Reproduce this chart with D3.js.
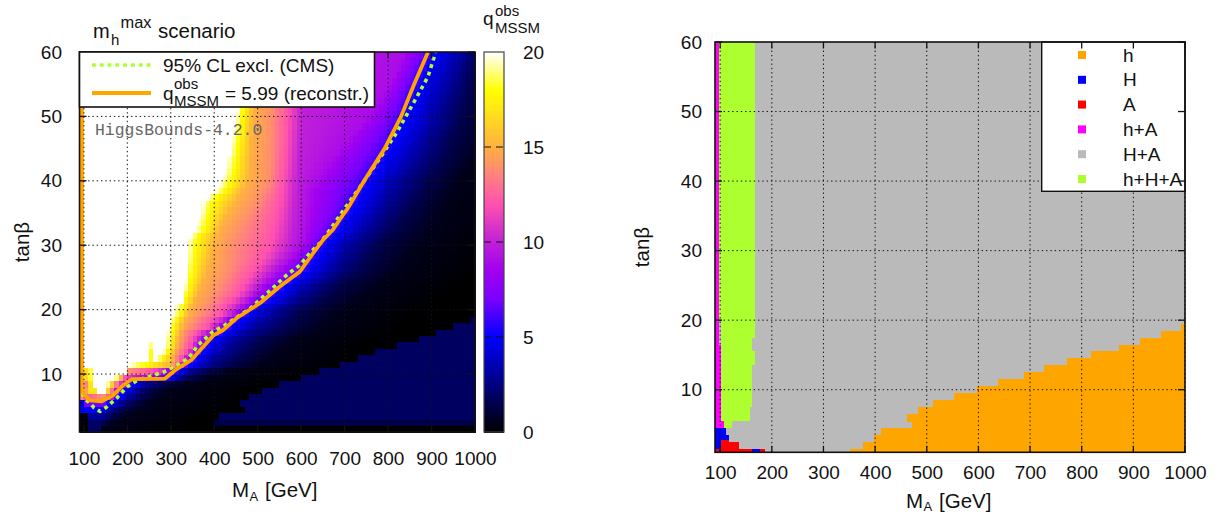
<!DOCTYPE html>
<html><head><meta charset="utf-8">
<script src="https://cdn.jsdelivr.net/npm/d3@7"></script>
<style>
html,body{margin:0;padding:0;background:#fff}
svg{display:block}
text{font-family:"Liberation Sans",Arial,sans-serif;fill:#111}
</style></head><body>
<svg id="c" width="1220" height="514"></svg>
<script>
// ---- shared ticks ----
const xTicks = [100,200,300,400,500,600,700,800,900,1000];
const yTicks = [10,20,30,40,50,60];
const cbTicks = [0,5,10,15,20];

// ---- colour bar stops ----
const paletteQ = [0,5,7,8.5,10,12,13.5,15,16.5,18,20];
const paletteC = ["#000000","#0000ff","#7a00ff","#a000f0","#c020d8","#ff50b0","#ff8080","#ffb040","#ffd820","#ffff00","#ffffff"];

// ---- left map: MA where q falls to each level, per tanβ row (row k spans k-1..k) ----
const qLevels = [20,18,15,14,12,10,9,6,5,3,1.5,0.5];
const qRows = [
[120,121,122,123,124,125,126,127,128,136,137,138],
[130,131,132,133,134,135,136,137,138,139,145,170],
[130,131,132,133,134,135,136,137,138,140,165,195],
[130,131,132,133,134,135,136,137,140,160,190,225],
[140,141,142,143,144,145,146,150,158,185,215,255],
[120,125,130,145,155,163,166,175,185,205,235,275],
[145,150,158,162,168,173,176,185,195,220,250,290],
[152,160,168,172,180,188,193,205,215,240,280,330],
[170,180,185,188,195,215,240,292,300,320,345,390],
[195,198,200,202,260,285,292,310,320,345,385,440],
[200,240,300,308,318,325,328,336,348,385,435,505],
[265,280,305,312,325,335,340,352,362,400,460,530],
[282,292,310,318,335,348,352,366,378,420,480,550],
[290,298,316,324,345,356,362,378,390,435,500,570],
[291,300,318,328,350,365,372,390,402,450,520,590],
[293,302,322,332,360,380,388,412,424,475,545,625],
[295,306,328,345,385,405,412,432,445,500,570,650],
[298,312,332,355,395,420,428,449,460,520,585,665],
[305,322,340,370,415,440,450,470,484,540,600,680],
[312,328,348,380,425,455,465,493,507,562,622,705],
[325,332,355,390,440,470,482,515,530,585,645,728],
[330,336,362,400,455,485,497,532,548,602,665,748],
[332,340,368,410,465,497,510,549,565,620,682,765],
[334,343,375,418,475,510,525,570,586,642,705,788],
[335,346,380,425,485,522,540,590,606,662,725,810],
[336,348,385,430,497,535,555,604,620,677,740,825],
[337,350,390,433,508,548,570,615,631,690,752,838],
[338,352,394,436,518,560,583,625,641,700,763,850],
[339,354,398,438,526,570,595,635,651,712,775,862],
[340,356,402,442,532,577,605,647,663,725,788,875],
[345,362,406,450,536,580,608,660,676,738,800,885],
[358,376,412,458,540,582,610,675,691,755,818,900],
[362,380,420,466,543,584,612,684,700,765,828,910],
[366,384,428,475,546,586,614,694,710,776,840,918],
[370,388,438,485,549,587,616,704,720,786,850,925],
[372,392,448,495,552,588,618,713,729,796,860,933],
[385,405,458,505,554,589,619,722,738,805,870,942],
[402,422,466,512,556,590,620,731,747,815,880,950],
[412,432,474,520,558,591,630,741,757,825,890,960],
[420,440,480,526,560,592,640,750,766,835,900,970],
[424,444,482,527,562,593,650,760,776,845,910,980],
[428,447,483,528,564,594,660,770,786,855,920,990],
[431,449,484,528,565,595,672,779,795,865,930,1000],
[435,452,485,529,566,596,685,788,804,874,936,1012],
[438,454,486,529,567,597,697,796,812,882,942,1022],
[441,456,487,530,568,598,710,804,820,890,948,1030],
[444,458,488,530,569,599,722,812,828,899,955,1040],
[447,460,489,530,570,600,735,820,836,908,962,1050],
[450,462,490,530,570,600,748,828,844,915,970,1060],
[452,464,491,532,571,601,760,832,848,918,973,1065],
[454,466,493,534,572,601,770,838,854,922,977,1070],
[456,468,495,536,573,602,780,845,861,928,982,1075],
[458,470,497,538,574,602,790,851,867,934,986,1080],
[460,472,500,541,575,603,800,857,873,940,990,1085],
[462,474,504,544,576,603,808,863,879,946,994,1090],
[464,476,508,547,577,603,815,870,886,952,998,1095],
[466,478,512,550,578,604,822,877,893,958,1002,1100],
[468,480,515,553,579,604,828,884,900,964,1006,1105],
[470,482,517,556,579,604,835,892,908,970,1010,1110]
];
// rising edge at low MA for the first rows (k = 2..11): [MA...], [q...]
const leftEdgeMA = [
[90,108,112,135],[90,108,115,145],[90,108,112,145],[90,105,150],[90,100,105,150],
[90,100,105,140],[90,100,110,115,125,130],[90,100,108,115,125],[90,100,108,113,125],[90,100,113,120]
];
const leftEdgeQ = [
[0.1,0.1,2,2],[0.2,0.2,2,2],[0.2,0.2,3,3],[5,5,5],[4,4,7,7],
[15,12,12,14],[15,14,15,17,17,20],[15,13,14,17,20],[15,16,17,18,20],[15,16,18,20]
];
const stripeMA = [90,100,103,105];
const stripeQ = [15,15,18,20];
// small isolated cells seen in the map: k, MA column, q
const spikes = [[13,250,18],[14,250,18],[15,250,19]];
// start of the "h" region, one entry per tanβ step 1..19
const hStart = [351,377,398,411,471,461,483,512,553,597,638,688,727,772,818,872,913,953,992];

// ---- contours ----
const exclMA  = [96,104,114,123,137,151,176,199,225,256,287,314,340,363,397,420,452,483,529,567,597,620,643,658,693,735,781,819,866,892,905,909];
const exclTan = [7,6,5.5,4.8,4.2,4.8,6.3,8,9.1,9.7,10.4,11.4,12.4,14.5,16.6,17.4,18.8,20.2,23,25.4,26.9,28.8,30.3,31.6,35,39,43.5,47.4,53,56.2,59,60];
const reconMA  = [94,94,96,114,141,167,191,210,287,310,348,374,398,420,452,505,551,597,628,650,673,693,708,745,792,830,860,892];
const reconTan = [60,8,7.2,5.9,5.75,6.7,8.3,9.2,9.3,10.6,12.2,14.2,16,16.8,18.7,21,23.6,25.9,28.8,30.8,32.4,34.4,35.8,40,45,50,55,60];

// ---- right map: tanLo, tanHi, MAlo, MAhi, category ----
const legendNames = ["h","H","A","h+A","H+A","h+H+A"];
const legendColors = ["#ffa500","#0000ff","#ff0000","#ff00ff","#bababa","#adff2f"];
const regions = [
[1,60,90,1000,"H+A"],
[20,60,97,167,"h+H+A"],[17.5,20,101.6,167,"h+H+A"],[15.5,17.5,101.6,162,"h+H+A"],[13.5,15.5,101.6,167,"h+H+A"],
[7.5,13.5,101.6,162,"h+H+A"],[5.5,7.5,101.6,158,"h+H+A"],[4.5,5.5,107,123,"h+H+A"],
[16.5,60,90,97,"h+A"],[5.5,16.5,90,101.6,"h+A"],[4.5,5.5,90,107,"h+A"],
[3.5,4.5,90,111,"H"],[2.5,3.5,90,117,"H"],[1.5,2.5,90,101.6,"H"],[1,1.5,97,101.6,"H"],[1,1.5,162,177,"H"],
[1.5,2.5,101.6,136,"A"],[2.5,2.8,101.6,117,"A"],[1,1.5,90,97,"A"],[1,1.5,101.6,162,"A"],[1,1.5,177,187,"A"]
];

// ---- scales ----
const svg = d3.select("#c");
const xL = d3.scaleLinear().domain([90,1000]).range([79.5,475]);
const yL = d3.scaleLinear().domain([1,60]).range([432,52]);
const xR = d3.scaleLinear().domain([90,1000]).range([715,1185]);
const yR = d3.scaleLinear().domain([1,60]).range([452.3,42]);
const yC = d3.scaleLinear().domain([0,20]).range([432,52]);
const color = d3.scaleLinear().domain(paletteQ).range(paletteC).clamp(true);

// ---- left heat map ----
const maCols = d3.range(90,1000,10);
const cells = [];
qRows.forEach((row,i)=>{
  const k = i+2;
  const fall = d3.scaleLinear().domain([...row,row[row.length-1]+200]).range([...qLevels,0]).clamp(true);
  const edge = i<leftEdgeMA.length
    ? d3.scaleLinear().domain(leftEdgeMA[i]).range(leftEdgeQ[i]).clamp(true)
    : d3.scaleLinear().domain(stripeMA).range(stripeQ).clamp(true);
  maCols.forEach(m=>{
    const c = m+5;
    let q = Math.min(fall(c),edge(c));
    if(k>=3 && k<=19 && c>=hStart[k-1]) q = Math.max(q,k===3?1.4:1.9);
    const s = spikes.find(a=>a[0]===k && a[1]===m);
    if(s) q = s[2];
    cells.push({k,m,q});
  });
});
const gL = svg.append("g");
gL.selectAll("rect").data(cells).join("rect")
  .attr("x",d=>xL(d.m)).attr("y",d=>yL(d.k))
  .attr("width",d=>xL(d.m+10)-xL(d.m)+0.6)
  .attr("height",d=>yL(d.k-1)-yL(d.k)+0.6)
  .attr("fill",d=>color(d.q)).attr("shape-rendering","crispEdges");

// clip for curves
const defs = svg.append("defs");
defs.append("clipPath").attr("id","clipL").append("rect").attr("x",79.5).attr("y",52).attr("width",395.5).attr("height",380);

function grid(g,x,y,w0,w1,h0,h1){
  g.append("g").selectAll("line").data(xTicks).join("line")
    .attr("x1",d=>x(d)).attr("x2",d=>x(d)).attr("y1",h0).attr("y2",h1);
  g.append("g").selectAll("line").data(yTicks.filter(d=>d<60)).join("line")
    .attr("x1",w0).attr("x2",w1).attr("y1",d=>y(d)).attr("y2",d=>y(d));
  g.selectAll("line").attr("stroke","#111").attr("stroke-width",1).attr("stroke-dasharray","1.4 2.9");
}
function frameTicks(g,x,y,w0,w1,h0,h1){
  const t = g.append("g").attr("stroke","#111").attr("stroke-width",1.3);
  xTicks.forEach(v=>{
    t.append("line").attr("x1",x(v)).attr("x2",x(v)).attr("y1",h1).attr("y2",h1-6.5);
    t.append("line").attr("x1",x(v)).attr("x2",x(v)).attr("y1",h0).attr("y2",h0+6.5);
  });
  yTicks.forEach(v=>{
    t.append("line").attr("x1",w0).attr("x2",w0+7).attr("y1",y(v)).attr("y2",y(v));
    t.append("line").attr("x1",w1).attr("x2",w1-7).attr("y1",y(v)).attr("y2",y(v));
  });
  g.append("rect").attr("x",w0).attr("y",h0).attr("width",w1-w0).attr("height",h1-h0)
    .attr("fill","none").attr("stroke","#111").attr("stroke-width",1.6);
}
function axisLabels(g,x,y,xBase,yEnd){
  const ax = d3.axisBottom(x).tickValues(xTicks).tickFormat(d3.format("d")).tickSize(0).tickPadding(0);
  const ag = g.append("g").attr("transform",`translate(0,${xBase-15})`).call(ax);
  ag.select(".domain").remove();
  ag.selectAll("text").attr("font-size",19).attr("fill","#111").attr("font-family",'"Liberation Sans"');
  const ay = d3.axisLeft(y).tickValues(yTicks).tickFormat(d3.format("d")).tickSize(0).tickPadding(0);
  const ayg = g.append("g").attr("transform",`translate(${yEnd},0)`).call(ay);
  ayg.select(".domain").remove();
  ayg.selectAll("text").attr("font-size",19).attr("fill","#111").attr("font-family",'"Liberation Sans"');
}
function maTitle(g,x0,base){
  g.append("text").attr("x",x0).attr("y",base).attr("font-size",20.5).text("M");
  g.append("text").attr("x",x0+17.5).attr("y",base+3.5).attr("font-size",13).text("A");
  g.append("text").attr("x",x0+33).attr("y",base).attr("font-size",20.5).text("[GeV]");
}
function tanTitle(g,cx,cy){
  g.append("text").attr("transform",`translate(${cx},${cy}) rotate(-90)`).attr("text-anchor","middle")
   .attr("font-size",20.5).text("tanβ");
}

// ---- left panel ----
grid(svg.append("g"),xL,yL,79.5,475,52,432);
const gc = svg.append("g").attr("clip-path","url(#clipL)");
const lineL = d3.line().x(d=>xL(d[0])).y(d=>yL(d[1]));
gc.append("path").attr("d",lineL(d3.zip(exclMA,exclTan))).attr("fill","none")
  .attr("stroke","#adff2f").attr("stroke-width",3.6).attr("stroke-dasharray","3.8 4");
gc.append("path").attr("d",lineL(d3.zip(reconMA,reconTan))).attr("fill","none")
  .attr("stroke","#ffa500").attr("stroke-width",3.8).attr("stroke-linejoin","round");
frameTicks(svg.append("g"),xL,yL,79.5,475,52,432);
svg.append("text").attr("x",95).attr("y",135).attr("font-size",16.4)
  .style("font-family",'"Liberation Mono",monospace').style("fill","#666").text("HiggsBounds-4.2.0");

// left legend
const lg = svg.append("g");
lg.append("rect").attr("x",79.5).attr("y",52).attr("width",295).attr("height",55)
  .attr("fill","#fff").attr("stroke","#111").attr("stroke-width",1.6);
lg.append("line").attr("x1",92).attr("x2",151).attr("y1",65).attr("y2",65)
  .attr("stroke","#adff2f").attr("stroke-width",3.6).attr("stroke-dasharray","3.8 4");
lg.append("line").attr("x1",92).attr("x2",151).attr("y1",93).attr("y2",93)
  .attr("stroke","#ffa500").attr("stroke-width",3.8);
lg.append("text").attr("x",163).attr("y",72).attr("font-size",19).text("95% CL excl. (CMS)");
lg.append("text").attr("x",163).attr("y",100).attr("font-size",19).text("q");
lg.append("text").attr("x",174).attr("y",89).attr("font-size",15).text("obs");
lg.append("text").attr("x",174).attr("y",105.5).attr("font-size",15).text("MSSM");
lg.append("text").attr("x",225).attr("y",100).attr("font-size",19).text("= 5.99 (reconstr.)");

// title
svg.append("text").attr("x",93).attr("y",38).attr("font-size",20).text("m");
svg.append("text").attr("x",111).attr("y",45).attr("font-size",15).text("h");
svg.append("text").attr("x",120.5).attr("y",28).attr("font-size",16.4).text("max");
svg.append("text").attr("x",158).attr("y",38).attr("font-size",20.5).text("scenario");

axisLabels(svg.append("g"),xL,yL,466,62);
maTitle(svg.append("g"),232,497);
tanTitle(svg.append("g"),29,242);

// colour bar
const cbVals = d3.range(0,20,0.1);
svg.append("g").selectAll("rect").data(cbVals).join("rect")
  .attr("x",484).attr("width",20).attr("y",d=>yC(d+0.1)).attr("height",d=>yC(d)-yC(d+0.1)+0.5)
  .attr("fill",d=>color(d+0.05)).attr("shape-rendering","crispEdges");
svg.append("g").selectAll("line").data(cbTicks.slice(1,4)).join("line")
  .attr("x1",484).attr("x2",504).attr("y1",d=>yC(d)).attr("y2",d=>yC(d))
  .attr("stroke","#111").attr("stroke-width",1).attr("stroke-dasharray","7 5");
svg.append("rect").attr("x",484).attr("y",52).attr("width",20).attr("height",380)
  .attr("fill","none").attr("stroke","#444").attr("stroke-width",1.2);
const cax = svg.append("g").attr("transform","translate(523,0)").call(d3.axisRight(yC).tickValues(cbTicks).tickFormat(d3.format("d")).tickSize(0).tickPadding(0));
cax.select(".domain").remove();
cax.selectAll("text").attr("font-size",19).attr("fill","#111").attr("font-family",'"Liberation Sans"');
svg.append("text").attr("x",483).attr("y",25).attr("font-size",19).text("q");
svg.append("text").attr("x",495).attr("y",16).attr("font-size",15).text("obs");
svg.append("text").attr("x",495).attr("y",33).attr("font-size",15).text("MSSM");

// ---- right panel ----
const nameColor = d3.scaleOrdinal().domain(legendNames).range(legendColors);
const rg = svg.append("g");
rg.selectAll("rect").data(regions).join("rect")
  .attr("x",d=>xR(d[2])).attr("width",d=>xR(d[3])-xR(d[2]))
  .attr("y",d=>yR(d[1])).attr("height",d=>yR(d[0])-yR(d[1]))
  .attr("fill",d=>nameColor(d[4])).attr("shape-rendering","crispEdges");
const hg = svg.append("g");
hg.selectAll("rect").data(hStart).join("rect")
  .attr("x",d=>xR(d)).attr("width",d=>xR(1000)-xR(d))
  .attr("y",(d,i)=>yR(i+1.5)).attr("height",(d,i)=>yR(i===0?1:i+0.5)-yR(i+1.5)+0.5)
  .attr("fill",nameColor("h")).attr("shape-rendering","crispEdges");
grid(svg.append("g"),xR,yR,715,1185,42,452.3);

// right legend (covers grid)
const rl = svg.append("g");
rl.append("rect").attr("x",1041.7).attr("y",42).attr("width",143.3).attr("height",149.3)
  .attr("fill","#fff").attr("stroke","#111").attr("stroke-width",1.4);
const legRow = d3.scalePoint().domain(legendNames).range([55,179]);
rl.selectAll("rect.m").data(legendNames).join("rect").attr("class","m")
  .attr("x",1078).attr("width",8).attr("height",8).attr("y",d=>legRow(d)-4).attr("fill",d=>nameColor(d));
rl.selectAll("text").data(legendNames).join("text")
  .attr("x",1123).attr("y",d=>legRow(d)+6.5).attr("font-size",19).text(d=>d);

frameTicks(svg.append("g"),xR,yR,715,1185,42,452.3);
axisLabels(svg.append("g"),xR,yR,480,702);
maTitle(svg.append("g"),906,507.5);
tanTitle(svg.append("g"),649,247);
</script>
</body></html>
